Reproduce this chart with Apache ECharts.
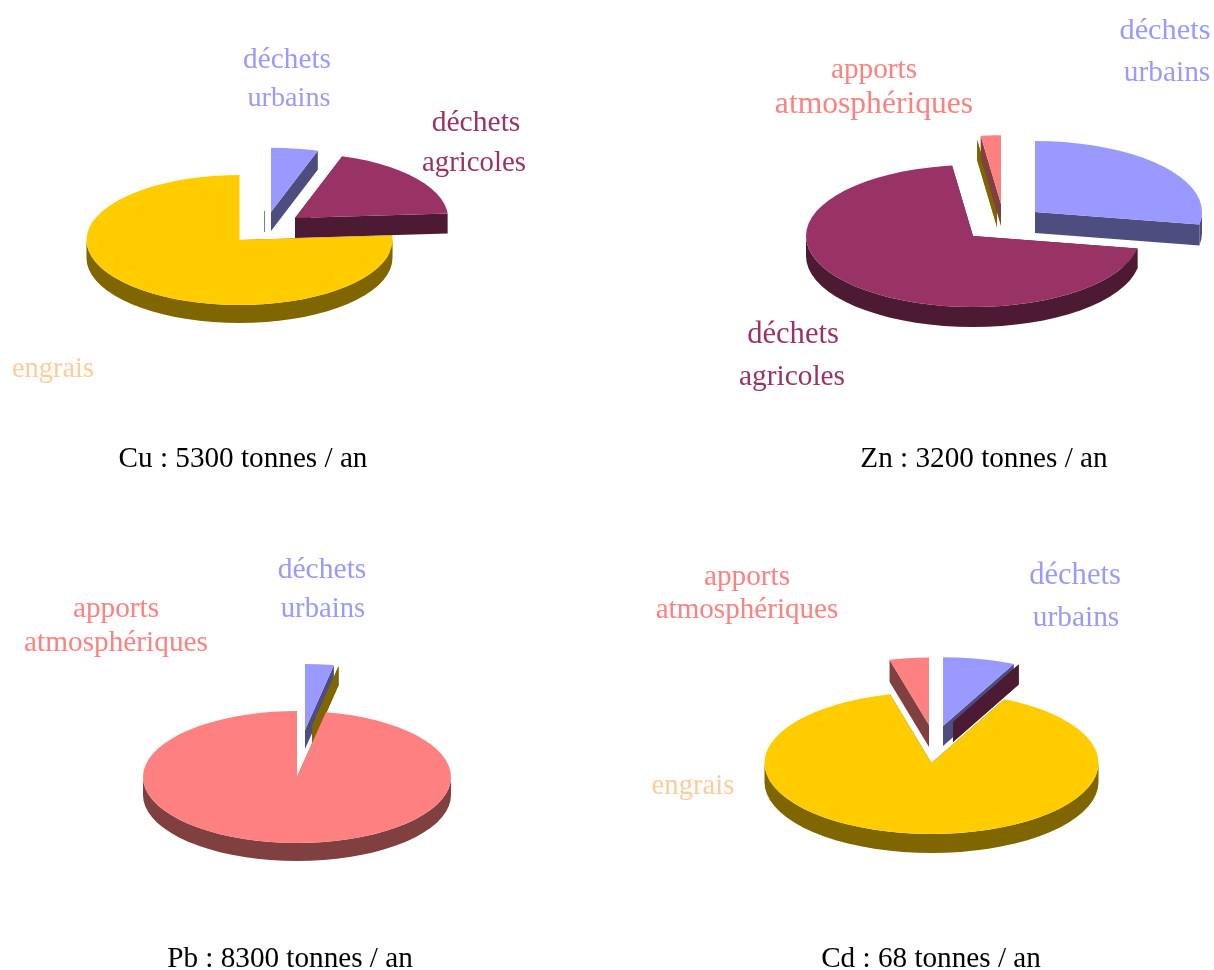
<!DOCTYPE html>
<html><head><meta charset="utf-8">
<style>html,body{margin:0;padding:0;background:#fff}#c{width:1214px;height:970px}</style>
<script src="https://cdn.jsdelivr.net/npm/echarts@6/dist/echarts.min.js"></script>
</head><body><div id="c"></div>
<script>
// ---- data ----
const cuCategories = ['déchets urbains','déchets agricoles','engrais','apports atmosphériques'];
const cuValues     = [5, 18.9, 76.1, 0];
const znCategories = ['déchets urbains','déchets agricoles','engrais','apports atmosphériques'];
const znValues     = [27.8, 70.2, 0, 2];
const pbCategories = ['déchets urbains','engrais','apports atmosphériques'];
const pbValues     = [3, 0, 97];
const cdCategories = ['déchets urbains','déchets agricoles','engrais','apports atmosphériques'];
const cdValues     = [7.2, 0, 88.8, 4];
const titles = ['Cu : 5300 tonnes / an','Zn : 3200 tonnes / an','Pb : 8300 tonnes / an','Cd : 68 tonnes / an'];

// ---- styles and layout ----
const topColor  = {'déchets urbains':'#9999FF','déchets agricoles':'#993366','engrais':'#FFCC00','apports atmosphériques':'#FF8080'};
const wallColor = {'déchets urbains':'#4D4D80','déchets agricoles':'#4D1A33','engrais':'#806600','apports atmosphériques':'#804040'};
const labelColor= {urb:'#9999FF',agr:'#993366',eng:'#FFCC99',atm:'#FF8080'};
const pies = [
 {name:'Cu',cats:cuCategories,vals:cuValues,rx:153,ry:65,slices:[
   {o:[271,212],d:19,r:0.99},{o:[295,218],d:20},{o:[239.5,240],d:18},{o:[264.5,211],d:21,r:0,wall:'#5F8F8F'}]},
 {name:'Zn',cats:znCategories,vals:znValues,rx:167,ry:71,slices:[
   {o:[1035,212],d:21},{o:[973,236],d:20},{o:[997,207],d:20,r:0.95},{o:[1001,204],d:22,r:0.97}]},
 {name:'Pb',cats:pbCategories,vals:pbValues,rx:154,ry:66,slices:[
   {o:[305,730],d:19},{o:[312,726],d:19,r:0.92},{o:[297,777],d:18}]},
 {name:'Cd',cats:cdCategories,vals:cdValues,rx:167,ry:71,slices:[
   {o:[943,726],d:20,r:0.97},{o:[953,722],d:20,r:0.9},{o:[931.5,763],d:19},{o:[929,725],d:22,r:0.95}]}
];
const textItems = [
 ['déchets',287,60,'urb',29.3],['urbains',289,99,'urb',28.2],['déchets',476,123,'agr',29.6],['agricoles',474,163,'agr',28.8],['engrais',53,370,'eng',28.4],
 ['déchets',1165,31,'urb',30.4],['urbains',1167,73,'urb',29.4],['apports',874,70,'atm',29.3],['atmosphériques',874,105,'atm',31.6],['déchets',793,335,'agr',30.6],['agricoles',792,377,'agr',29.4],
 ['déchets',322,570,'urb',29.6],['urbains',323,609,'urb',28.7],['apports',116,609,'atm',29.3],['atmosphériques',116,643,'atm',29.3],
 ['déchets',1075,576,'urb',30.6],['urbains',1076,618,'urb',29.4],['apports',747,577,'atm',29.3],['atmosphériques',747,610,'atm',29.1],['engrais',693,786,'eng',28.7]
];
const titlePos = [[243,459],[984,459],[290,959],[931,959]];
const FONT = '"Liberation Serif","Times New Roman",serif';
const TITLE_FS = 29.2;
const STEP = 5;

function makeRender(p){
  return function(params, api){
    const i = params.dataIndex;
    const v = api.value(0);
    const total = p.vals.reduce((a,b)=>a+b,0);
    let cum = 0; for(let k=0;k<i;k++) cum += p.vals[k];
    const a0 = cum/total*360, a1 = (cum+v)/total*360;
    const s = p.slices[i], name = p.cats[i];
    const rs = s.r===undefined ? 1 : s.r;
    const pt = (deg,dy)=>{const t=deg*Math.PI/180;
      return [s.o[0]+rs*p.rx*Math.sin(t), s.o[1]-rs*p.ry*Math.cos(t)+(dy||0)];};
    const wc = s.wall || wallColor[name];
    const kids = [];
    const poly = (points,fill,stroke)=>kids.push({type:'polygon',shape:{points},
       style:{fill,stroke:stroke?fill:null,lineWidth:stroke?1:0},silent:true});
    // radial walls
    [a0,a1].forEach(a=>{
      poly([[s.o[0],s.o[1]],pt(a),pt(a,s.d),[s.o[0],s.o[1]+s.d]],wc,rs===0);
    });
    if(v>0){
      // outer wall (only the front half of the rim is seen)
      const f0=Math.max(a0,90), f1=Math.min(a1,270);
      if(f1>f0){
        const up=[],dn=[];
        for(let a=f0;a<f1;a+=STEP){up.push(pt(a));dn.push(pt(a,s.d));}
        up.push(pt(f1));dn.push(pt(f1,s.d));
        poly(up.concat(dn.reverse()),wc);
      }
      // top face
      const top=[[s.o[0],s.o[1]]];
      for(let a=a0;a<a1;a+=STEP) top.push(pt(a));
      top.push(pt(a1));
      poly(top,topColor[name]);
    }
    return {type:'group',children:kids};
  };
}

const chart = echarts.init(document.getElementById('c'),null,{renderer:'canvas'});
const graphics = [];
textItems.forEach(t=>graphics.push({type:'text',x:t[1],y:t[2],silent:true,
  style:{text:t[0],fill:labelColor[t[3]],font:t[4]+'px '+FONT,textAlign:'center',textVerticalAlign:'middle'}}));
titles.forEach((t,i)=>graphics.push({type:'text',x:titlePos[i][0],y:titlePos[i][1],silent:true,
  style:{text:t,fill:'#000',font:TITLE_FS+'px '+FONT,textAlign:'center',textVerticalAlign:'middle'}}));

chart.setOption({
  animation:false,
  backgroundColor:'#fff',
  graphic:graphics,
  xAxis:{show:false},yAxis:{show:false},
  series:pies.map(p=>({
    type:'custom',name:p.name,coordinateSystem:'none',silent:true,clip:false,
    data:p.vals.map((v,i)=>({name:p.cats[i],value:[v]})),
    renderItem:makeRender(p)
  }))
});
</script></body></html>
